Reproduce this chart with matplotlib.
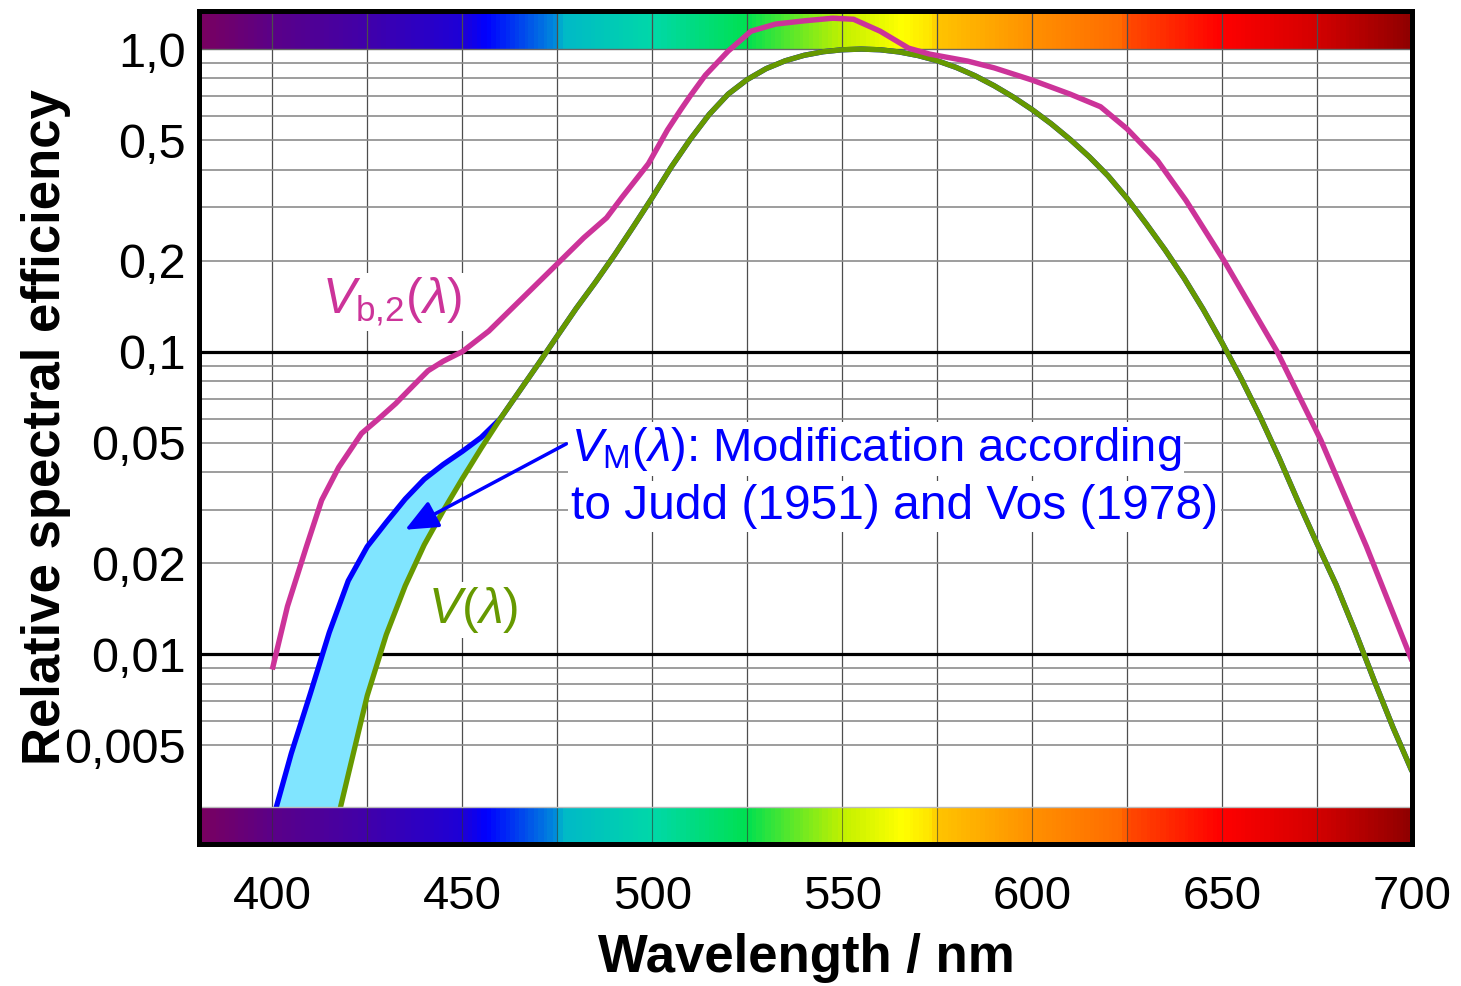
import numpy as np
import matplotlib
matplotlib.use("Agg")
import matplotlib.pyplot as plt
from matplotlib.colors import LinearSegmentedColormap, Normalize
from matplotlib.ticker import NullLocator

plt.rcParams['font.family'] = 'Liberation Sans'
plt.rcParams['mathtext.fontset'] = 'custom'
plt.rcParams['mathtext.rm'] = 'Liberation Sans'
plt.rcParams['mathtext.it'] = 'Liberation Sans:italic'
plt.rcParams['mathtext.bf'] = 'Liberation Sans:bold'

# photopic V(lambda), 380..700 nm in 5 nm steps
wl = np.arange(380, 705, 5)
v_lambda = [0.000039, 0.000064, 0.00012, 0.000217, 0.000396, 0.00064, 0.00121, 0.00218,
            0.0040, 0.0073, 0.0116, 0.01684, 0.023, 0.0298, 0.038, 0.048, 0.060, 0.0739,
            0.09098, 0.1126, 0.13902, 0.1693, 0.20802, 0.2586, 0.323, 0.4073, 0.503, 0.6082,
            0.710, 0.7932, 0.862, 0.91485, 0.954, 0.9803, 0.99495, 1.0, 0.995, 0.9786, 0.952,
            0.9154, 0.870, 0.8163, 0.757, 0.6949, 0.631, 0.5668, 0.503, 0.4412, 0.381, 0.321,
            0.265, 0.217, 0.175, 0.1382, 0.107, 0.0816, 0.061, 0.04458, 0.032, 0.0232, 0.017,
            0.01192, 0.00821, 0.005723, 0.004102]

# Judd/Vos modification, differs from V(lambda) only up to 460 nm
vm_short = [0.0002, 0.0004, 0.0008, 0.0015, 0.0028, 0.0047, 0.0074, 0.0118, 0.0175,
            0.0227, 0.0273, 0.0326, 0.0379, 0.0424, 0.0468, 0.0521, 0.0600]

# V_b,2(lambda)
wl_vb = [400, 404, 409, 413, 417.5, 423.5, 428, 432.5, 437, 441, 445, 450, 457, 466, 475,
         482, 488, 492, 499, 504, 507.5, 510, 514, 520, 526, 532.5, 540, 547.5, 553, 560,
         567.5, 573, 583, 590, 600, 610, 618, 625, 633, 640.5, 650.5, 664.5, 676, 688, 700]
vb2 = [0.0089, 0.0144, 0.0227, 0.0323, 0.0415, 0.0537, 0.060, 0.0674, 0.077, 0.0865, 0.093,
       0.100, 0.117, 0.151, 0.195, 0.238, 0.277, 0.323, 0.418, 0.54, 0.63, 0.70, 0.82, 0.985,
       1.146, 1.21, 1.24, 1.265, 1.255, 1.146, 1.007, 0.963, 0.913, 0.867, 0.79, 0.71, 0.645,
       0.545, 0.428, 0.316, 0.20, 0.10, 0.051, 0.0227, 0.0095]

x_ticks = [400, 450, 500, 550, 600, 650, 700]
y_ticks = [1.0, 0.5, 0.2, 0.1, 0.05, 0.02, 0.01, 0.005]
y_labels = ["1,0", "0,5", "0,2", "0,1", "0,05", "0,02", "0,01", "0,005"]

# colour stops of the spectrum bands
band_wl = [380, 400, 425, 450, 456, 474, 476, 500, 525, 550, 566, 574, 575, 600, 624, 626,
           650, 675, 700]
band_col = ['#7a005e', '#5a0088', '#4000aa', '#1c00d8', '#0000ff', '#0088dc', '#00b8c8',
            '#00d8a8', '#00e050', '#c0f000', '#ffff00', '#ffe000', '#ffc400', '#ff9000',
            '#ff6a00', '#ff4800', '#ff0000', '#d40000', '#900000']

x0, x1 = 380.6, 700
y0, y1 = 0.00236, 1.336
band_lo = 0.00313

fig = plt.figure(figsize=(14.61, 9.86), dpi=100)
ax = fig.add_axes([0.1359, 0.1440, 0.8306, 0.8448])
ax.set_yscale('log')
ax.set_xlim(x0, x1)
ax.set_ylim(y0, y1)

# spectrum bands
cmap = LinearSegmentedColormap.from_list(
    'spec', [((w - 380) / 320, c) for w, c in zip(band_wl, band_col)])
norm = Normalize(380, 700)
xs = np.linspace(x0, x1, 641)
xc = (xs[:-1] + xs[1:]) / 2
ax.pcolormesh(xs, [1.0, y1], xc[None, :], cmap=cmap, norm=norm, shading='flat', zorder=1)
ax.pcolormesh(xs, [y0, band_lo], xc[None, :], cmap=cmap, norm=norm, shading='flat', zorder=4)

# grid
grid_x = np.arange(400, 700, 25)
for gx in grid_x:
    ax.axvline(gx, color='#4d4d4d', lw=0.9, zorder=1.5)
ax.vlines(grid_x, y0, band_lo, color='#333333', lw=0.8, alpha=0.6, zorder=4.1)
minor_y = [m * d for d in (0.1, 0.01) for m in range(2, 10)] + [0.005, 0.006, 0.007, 0.008, 0.009]
for gy in minor_y:
    ax.axhline(gy, color='#8c8c8c', lw=1.2, zorder=1.5)
ax.axhline(1.0, color='#666666', lw=1.0, zorder=1.5)
ax.axhline(band_lo, color='#bbbbbb', lw=1.0, zorder=4.2)
for gy in (0.1, 0.01):
    ax.axhline(gy, color='black', lw=2.3, zorder=1.6)

# curves
v_arr = np.array(v_lambda)
vm_full = np.concatenate([vm_short, v_arr[len(vm_short):]])
n = len(vm_short)
ax.fill_between(wl[:n], v_arr[:n], vm_short, color='#80e5ff', lw=0, zorder=2)
ax.plot(wl, vm_full, color='#0000ff', lw=3.8, zorder=3, solid_capstyle='butt')
ax.plot(wl, v_arr, color='#669900', lw=3.8, zorder=3.1, solid_capstyle='butt')
ax.plot(wl_vb, vb2, color='#cc3399', lw=3.9, zorder=3.2, solid_capstyle='butt')

# labels on the curves
box = dict(facecolor='white', edgecolor='none', pad=2)
ax.text(413.2, 0.134, r'$V_{\mathrm{b{,}2}}(\lambda)$', color='#cc3399', fontsize=36,
        ha='left', va='baseline', bbox=box, zorder=5)
ax.text(441.1, 0.01267, r'$V(\lambda)$', color='#669900', fontsize=36,
        ha='left', va='baseline', bbox=box, zorder=5)
ax.text(478.5, 0.0436, r'$V_{\mathrm{M}}(\lambda)$: Modification according', color='#0000ff',
        fontsize=34, ha='left', va='baseline', bbox=box, zorder=5)
ax.text(478.5, 0.028, 'to Judd (1951) and Vos (1978)', color='#0000ff',
        fontsize=34.5, ha='left', va='baseline', bbox=box, zorder=5)
ax.annotate('', xy=(435.0, 0.0258), xytext=(477.4, 0.0496),
            arrowprops=dict(arrowstyle='-|>,head_length=0.8,head_width=0.35', color='#0000ff',
                            lw=2.5, mutation_scale=25, shrinkA=0, shrinkB=0), zorder=6)

# axes
ax.set_xticks(x_ticks)
ax.set_xticklabels([str(t) for t in x_ticks])
ax.set_yticks(y_ticks)
ax.set_yticklabels(y_labels)
ax.yaxis.set_minor_locator(NullLocator())
ax.xaxis.set_minor_locator(NullLocator())
ax.tick_params(axis='x', length=0, pad=22, labelsize=34)
ax.tick_params(axis='y', length=0, pad=9, labelsize=35)
for sp in ax.spines.values():
    sp.set_linewidth(3.6)
    sp.set_zorder(10)

fig.text(806 / 1461, 1 - 972 / 986, 'Wavelength / nm', fontsize=38, fontweight='bold',
         ha='center', va='baseline')
fig.text(46 / 1461, 1 - 427 / 986, 'Relative spectral efficiency', fontsize=38,
         fontweight='bold', rotation=90, ha='center', va='center')

fig.savefig('out.png', dpi=100)
